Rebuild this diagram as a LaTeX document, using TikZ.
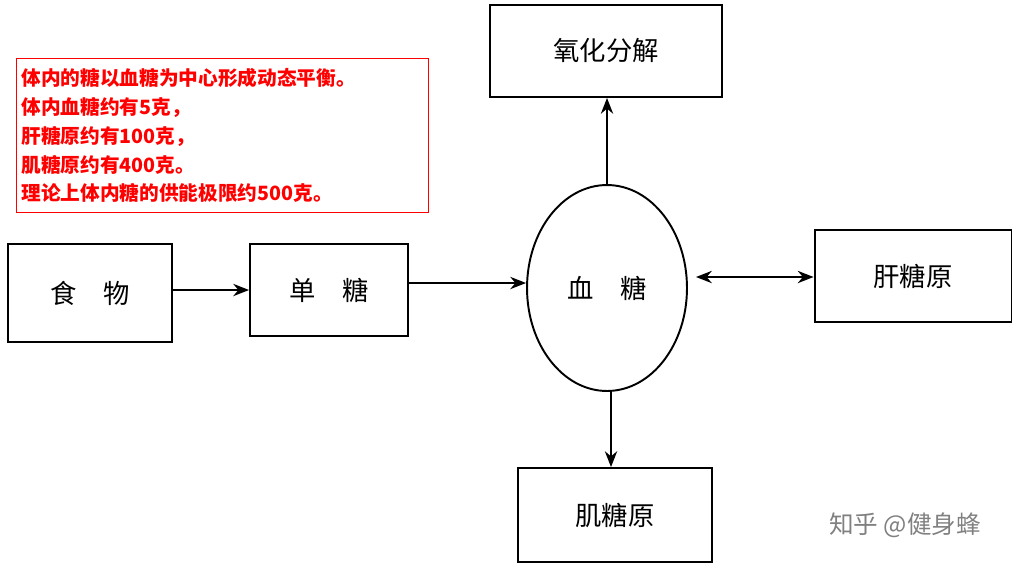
\documentclass[tikz,border=0pt]{standalone}
\usepackage{fontspec}
\setmainfont{Noto Sans CJK SC}
\usetikzlibrary{positioning,arrows.meta,shapes.geometric}
\tikzset{font=\fontsize{15}{18}\selectfont}

\begin{document}
\begin{tikzpicture}[x=0.02cm,y=-0.02cm]
	\useasboundingbox (0,0) rectangle (1026,572);
	\tikzstyle{box}=[draw, line width=1.1pt, align=center, inner sep=1pt]
	\tikzstyle{arr}=[line width=1.1pt, -{Stealth[length=9pt,width=7pt]}]
	\node[box, minimum width=4.64cm, minimum height=1.84cm] (ox) at (606,51) {氧化分解};
	\node[box, minimum width=3.28cm, minimum height=1.96cm] (food) at (90,293) {食\quad 物};
	\node[box, minimum width=3.16cm, minimum height=1.84cm] (mono) at (329,290) {单\quad 糖};
	\node[draw, line width=1.1pt, ellipse, minimum width=3.2cm, minimum height=4.12cm] (blood) at (607,288) {血\quad 糖};
	\node[box, minimum width=3.94cm, minimum height=1.84cm] (liver) at (913,276) {肝糖原};
	\node[box, minimum width=3.88cm, minimum height=1.88cm] (muscle) at (615,515) {肌糖原};

	\node[draw=red, thick, text=red, align=left, anchor=north west, inner sep=2pt,
		minimum width=8.24cm, minimum height=3.08cm, text width=8.05cm,
		font=\bfseries\fontsize{11.2}{16.4}\selectfont] (note) at (16,58)
		{体内的糖以血糖为中心形成动态平衡。\\体内血糖约有5克，\\肝糖原约有100克，\\肌糖原约有400克。\\理论上体内糖的供能极限约500克。};

	\draw [arr] (food.east |- 0,290) -- (mono.west |- 0,290);
	\draw [arr] (mono.east |- 0,283) -- (blood.west |- 0,283);
	\draw [arr] (blood.north -| 607,0) -- (ox.south -| 607,0);
	\draw [line width=1.1pt, {Stealth[length=9pt,width=7pt]}-{Stealth[length=9pt,width=7pt]}] (696,277) -- (liver.west |- 0,277);
	\draw [arr] (611,390) -- (muscle.north -| 611,0);

	\node[text=gray, font=\fontsize{14}{16}\selectfont] (mark) at (905,525) {知乎 @健身蜂};
\end{tikzpicture}
\end{document}
